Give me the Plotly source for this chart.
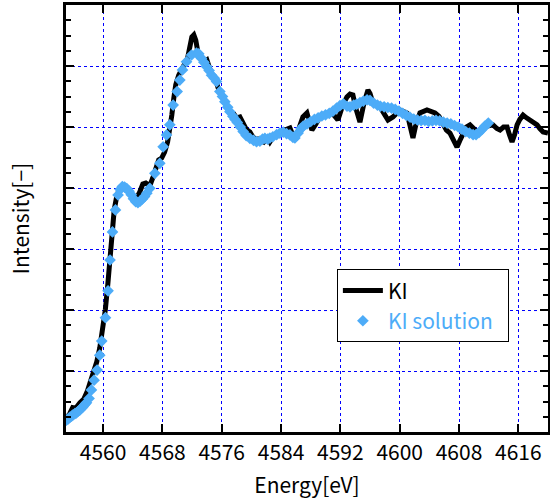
import plotly.graph_objects as go

# KI (solid) spectrum: energy [eV] and normalized intensity
ki_energy = [
    4555.06, 4555.5, 4555.9, 4556.3, 4556.86, 4557.4, 4557.9, 4558.3, 4558.7, 4559.15,
    4559.55, 4559.96, 4560.3, 4560.63, 4560.9, 4561.17, 4561.5, 4561.85, 4562.25, 4562.8,
    4563.33, 4563.87, 4564.4, 4564.95, 4565.36, 4565.76, 4566.3, 4566.7, 4567.1, 4567.5,
    4567.9, 4568.3, 4568.7, 4569.0, 4569.27, 4569.54, 4569.8, 4570.2, 4570.6, 4571.0,
    4571.4, 4571.7, 4571.97, 4572.24, 4572.5, 4572.78, 4573.18, 4573.6, 4574.0, 4574.4,
    4574.8, 4575.2, 4575.6, 4576.0, 4576.55, 4577.1, 4577.64, 4578.0, 4578.45, 4578.9,
    4579.3, 4579.8, 4580.2, 4580.6, 4581.15, 4581.7, 4582.2, 4582.5, 4582.91, 4583.4,
    4583.85, 4584.5, 4585.2, 4585.87, 4586.4, 4586.95, 4587.49, 4588.16, 4588.7, 4589.24,
    4589.9, 4590.59, 4591.1, 4591.67, 4592.3, 4592.88, 4593.3, 4593.69, 4594.1, 4594.64,
    4595.2, 4595.72, 4596.0, 4596.39, 4597.34, 4597.9, 4598.42, 4599.09, 4599.5, 4600.04,
    4600.98, 4601.4, 4601.79, 4602.2, 4602.73, 4603.68, 4604.2, 4604.76, 4605.3, 4605.84,
    4606.3, 4606.78, 4607.2, 4607.73, 4608.1, 4608.54, 4609.0, 4609.48, 4610.0, 4610.43,
    4611.24, 4611.9, 4612.59, 4613.1, 4613.53, 4614.0, 4614.48, 4614.8, 4615.15, 4615.5,
    4615.83, 4616.2, 4616.64, 4617.1, 4617.58, 4618.0, 4618.53, 4618.9, 4619.34, 4620.0,
]
ki_intensity = [
    0.046, 0.060, 0.080, 0.078, 0.095, 0.108, 0.135, 0.165, 0.195, 0.230,
    0.275, 0.334, 0.400, 0.482, 0.570, 0.656, 0.728, 0.774, 0.800, 0.807,
    0.793, 0.774, 0.761, 0.787, 0.813, 0.816, 0.807, 0.833, 0.866, 0.892,
    0.898, 0.918, 0.951, 0.990, 1.039, 1.095, 1.138, 1.170, 1.193, 1.207,
    1.226, 1.269, 1.295, 1.302, 1.285, 1.246, 1.226, 1.213, 1.220, 1.193,
    1.161, 1.154, 1.121, 1.105, 1.075, 1.049, 1.043, 1.030, 1.033, 1.010,
    0.993, 0.984, 0.967, 0.961, 0.961, 0.951, 0.964, 0.951, 0.967, 0.970,
    0.984, 0.990, 0.997, 0.957, 0.990, 1.033, 1.046, 0.990, 1.010, 1.033,
    1.040, 1.049, 1.040, 1.023, 1.070, 1.098, 1.108, 1.105, 1.060, 1.016,
    1.080, 1.121, 1.110, 1.079, 1.066, 1.040, 1.023, 1.033, 1.045, 1.056,
    1.046, 1.000, 0.964, 1.010, 1.046, 1.056, 1.050, 1.046, 1.035, 1.013,
    0.990, 0.980, 0.955, 0.934, 0.955, 0.980, 1.000, 1.007, 0.995, 0.984,
    1.000, 1.003, 1.007, 0.995, 0.990, 1.000, 1.000, 0.975, 0.951, 0.975,
    1.007, 1.025, 1.039, 1.030, 1.023, 1.015, 1.007, 0.995, 0.984, 0.980,
]

# KI solution spectrum
sol_energy = [
    4555.06, 4555.30, 4555.51, 4555.75, 4555.95, 4556.2, 4556.41, 4556.65, 4556.86, 4557.1,
    4557.30, 4557.55, 4557.76, 4558.11, 4558.43, 4558.79, 4559.19, 4559.55, 4559.82, 4560.32,
    4560.67, 4560.94, 4561.27, 4561.67, 4562.02, 4562.3, 4562.6, 4562.9, 4563.2, 4563.5,
    4563.8, 4564.1, 4564.4, 4564.7, 4565.0, 4565.3, 4565.6, 4565.9, 4566.3, 4566.98,
    4567.65, 4568.10, 4568.56, 4569.00, 4569.45, 4569.99, 4570.35, 4570.71, 4571.25, 4571.93,
    4572.60, 4572.9, 4573.28, 4573.6, 4573.95, 4574.3, 4574.63, 4575.0, 4575.30, 4575.75,
    4576.1, 4576.42, 4576.8, 4577.10, 4577.5, 4577.8, 4578.1, 4578.5, 4578.89, 4579.3,
    4579.8, 4580.3, 4580.7, 4581.15, 4581.5, 4581.82, 4582.2, 4582.5, 4582.9, 4583.4,
    4583.84, 4584.3, 4584.75, 4585.2, 4585.6, 4585.87, 4586.3, 4586.7, 4587.0, 4587.5,
    4588.0, 4588.5, 4589.0, 4589.5, 4590.0, 4590.5, 4591.0, 4591.5, 4591.94, 4592.4,
    4592.9, 4593.3, 4593.8, 4594.2, 4594.64, 4595.1, 4595.6, 4596.0, 4596.5, 4597.0,
    4597.4, 4597.9, 4598.4, 4598.9, 4599.4, 4599.9, 4600.4, 4600.9, 4601.4, 4601.9,
    4602.4, 4602.9, 4603.4, 4603.9, 4604.4, 4604.9, 4605.4, 4605.9, 4606.4, 4606.9,
    4607.4, 4607.9, 4608.4, 4608.9, 4609.4, 4609.9, 4610.3, 4610.7, 4611.1, 4611.5,
    4611.95,
]
sol_intensity = [
    0.039, 0.043, 0.048, 0.052, 0.056, 0.060, 0.063, 0.068, 0.072, 0.078,
    0.083, 0.090, 0.096, 0.110, 0.138, 0.170, 0.203, 0.252, 0.298, 0.375,
    0.463, 0.564, 0.656, 0.728, 0.777, 0.795, 0.805, 0.803, 0.798, 0.789,
    0.778, 0.765, 0.755, 0.752, 0.757, 0.764, 0.772, 0.783, 0.799, 0.848,
    0.881, 0.935, 0.974, 1.007, 1.072, 1.116, 1.154, 1.187, 1.214, 1.236,
    1.242, 1.240, 1.225, 1.212, 1.198, 1.185, 1.170, 1.160, 1.149, 1.116,
    1.100, 1.083, 1.065, 1.050, 1.035, 1.025, 1.015, 1.000, 0.985, 0.972,
    0.963, 0.956, 0.952, 0.954, 0.960, 0.963, 0.960, 0.964, 0.968, 0.975,
    0.980, 0.983, 0.978, 0.974, 0.966, 0.964, 0.980, 0.995, 1.003, 1.010,
    1.018, 1.025, 1.030, 1.036, 1.040, 1.045, 1.052, 1.062, 1.070, 1.076,
    1.068, 1.066, 1.072, 1.075, 1.080, 1.085, 1.089, 1.087, 1.078, 1.072,
    1.068, 1.066, 1.064, 1.062, 1.058, 1.052, 1.045, 1.038, 1.032, 1.026,
    1.023, 1.021, 1.022, 1.018, 1.020, 1.022, 1.020, 1.016, 1.013, 1.010,
    1.005, 1.000, 0.993, 0.985, 0.980, 0.975, 0.975, 0.982, 0.992, 1.003,
    1.013,
]

x_tick_values = [4560, 4568, 4576, 4584, 4592, 4600, 4608, 4616]
x_tick_labels = ["4560", "4568", "4576", "4584", "4592", "4600", "4608", "4616"]

FONT = "Noto Sans CJK JP"
BLUE = "#4DACF8"

fig = go.Figure()
fig.add_trace(go.Scatter(
    x=ki_energy, y=ki_intensity, mode="lines", name="KI",
    line=dict(color="black", width=5),
))
fig.add_trace(go.Scatter(
    x=sol_energy, y=sol_intensity, mode="markers",
    name=f"<span style='color:{BLUE}'>KI solution</span>&nbsp;&nbsp;",
    marker=dict(symbol="diamond", size=9, color=BLUE, line=dict(width=0)),
))

fig.update_layout(
    width=550, height=499,
    margin=dict(l=66, r=2, t=5, b=67, autoexpand=False),
    paper_bgcolor="white", plot_bgcolor="white",
    font=dict(family=FONT, size=21, color="black"),
    showlegend=True,
    legend=dict(
        x=0.562, y=0.381, xanchor="left", yanchor="top",
        bgcolor="white", bordercolor="black", borderwidth=1,
        font=dict(family=FONT, size=21, color="black"),
        itemwidth=40, tracegroupgap=0,
    ),
)
fig.update_xaxes(
    range=[4555, 4620], tickmode="array",
    tickvals=x_tick_values, ticktext=x_tick_labels,
    ticks="inside", ticklen=8, tickwidth=2, tickcolor="black",
    showline=True, linecolor="black", linewidth=2.5, mirror="ticks",
    showgrid=True, gridcolor="blue", gridwidth=1, griddash="dot",
    zeroline=False, automargin=False,
    title=dict(text="Energy[eV]", font=dict(family=FONT, size=21), standoff=15),
    tickfont=dict(family=FONT, size=21),
)
fig.update_yaxes(
    range=[0, 1.4], tickmode="linear", tick0=0, dtick=0.2,
    showticklabels=False,
    ticks="inside", ticklen=8, tickwidth=2, tickcolor="black",
    minor=dict(ticks="inside", ticklen=5, tickwidth=2, tickcolor="black",
               dtick=0.05, tick0=0, showgrid=False),
    showline=True, linecolor="black", linewidth=2.5, mirror="ticks",
    showgrid=True, gridcolor="blue", gridwidth=1, griddash="dot",
    zeroline=False, automargin=False,
    title=dict(text="Intensity[−]", font=dict(family=FONT, size=21), standoff=28),
)

fig.write_html(
    "out.html",
    config={"displayModeBar": False},
    post_script="document.body.style.margin='0';document.body.style.overflow='hidden';",
)
